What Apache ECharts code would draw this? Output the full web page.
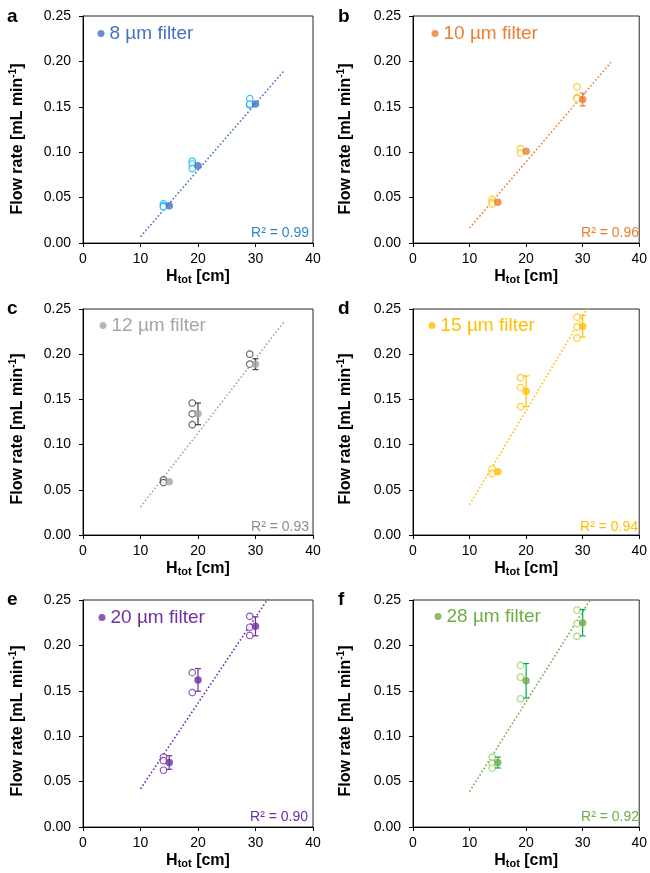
<!DOCTYPE html>
<html><head><meta charset="utf-8">
<script src="https://cdn.jsdelivr.net/npm/echarts@6/dist/echarts.min.js"></script>
<style>html,body{margin:0;padding:0;background:#fff}#c{width:650px;height:873px}</style>
</head><body><div id="c"></div>
<script>
// ---------- DATA ----------
const hTot = [15, 20, 30];          // H_tot of mean points [cm]
const hRep = [14, 19, 29];          // H_tot at which replicates are plotted [cm]
const xTickLabels = ['0', '10', '20', '30', '40'];
const yTickLabels = ['0.00', '0.05', '0.10', '0.15', '0.20', '0.25'];
const panelLetters = ['a', 'b', 'c', 'd', 'e', 'f'];
const filterNames = ['8 µm filter', '10 µm filter', '12 µm filter', '15 µm filter', '20 µm filter', '28 µm filter'];
const r2Labels = ['R² = 0.99', 'R² = 0.96', 'R² = 0.93', 'R² = 0.94', 'R² = 0.90', 'R² = 0.92'];

const meanA = [0.041, 0.085, 0.153];
const sdA = [0, 0, 0];
const repA = [[0.043, 0.041, 0.040], [0.090, 0.087, 0.082], [0.159, 0.152, 0.153]];
const trendA = [[10, 0.007], [35, 0.190]];

const meanB = [0.045, 0.101, 0.158];
const sdB = [0, 0, 0.007];
const repB = [[0.048, 0.045, 0.043], [0.104, 0.099], [0.172, 0.160, 0.159]];
const trendB = [[10, 0.0165], [35, 0.199]];

const meanC = [0.059, 0.134, 0.189];
const sdC = [0, 0.012, 0.006];
const repC = [[0.061, 0.058], [0.146, 0.134, 0.122], [0.200, 0.189]];
const trendC = [[10, 0.031], [35, 0.236]];

const meanD = [0.070, 0.159, 0.231];
const sdD = [0, 0.017, 0.012];
const repD = [[0.073, 0.068], [0.174, 0.163, 0.142], [0.241, 0.230, 0.218]];
const trendD = [[10, 0.0335], [35, 0.294]];

const meanE = [0.071, 0.162, 0.221];
const sdE = [0.0075, 0.0125, 0.0105];
const repE = [[0.077, 0.073, 0.0625], [0.170, 0.148], [0.232, 0.220, 0.211]];
const trendE = [[10, 0.042], [35, 0.278]];

const meanF = [0.071, 0.161, 0.225];
const sdF = [0.006, 0.019, 0.0145];
const repF = [[0.077, 0.070, 0.065], [0.178, 0.165, 0.141], [0.239, 0.224, 0.210]];
const trendF = [[10, 0.039], [35, 0.2865]];

const panelData = [
  {mean: meanA, sd: sdA, reps: repA, trend: trendA},
  {mean: meanB, sd: sdB, reps: repB, trend: trendB},
  {mean: meanC, sd: sdC, reps: repC, trend: trendC},
  {mean: meanD, sd: sdD, reps: repD, trend: trendD},
  {mean: meanE, sd: sdE, reps: repE, trend: trendE},
  {mean: meanF, sd: sdF, reps: repF, trend: trendF}
];

// ---------- STYLE / LAYOUT ----------
const FONT = '"Liberation Sans", Arial, sans-serif';
const colors = [
  {main: '#4472C4', open: '#00B0F0', err: '#4472C4', r2: '#2E86D0'},
  {main: '#ED7D31', open: '#FFC000', err: '#ED7D31', r2: '#ED7D31'},
  {main: '#A5A5A5', open: '#404040', err: '#404040', r2: '#8C8C8C'},
  {main: '#FFC000', open: '#FFC000', err: '#FFC000', r2: '#FFC000'},
  {main: '#7030A0', open: '#7030A0', err: '#7030A0', r2: '#7030A0'},
  {main: '#70AD47', open: '#92D050', err: '#00B050', r2: '#70AD47'}
];
const layout = [
  {left: 83,  top: 16,  height: 227, legend: [101, 34],  r2: [309, 233], letter: [7, 17],   ytitle: [17.5, 139]},
  {left: 413, top: 16,  height: 227, legend: [435, 34],  r2: [639, 233], letter: [338, 17], ytitle: [345.5, 139]},
  {left: 83,  top: 309, height: 226, legend: [103, 326], r2: [309, 527], letter: [7, 309],  ytitle: [17.5, 429]},
  {left: 413, top: 309, height: 226, legend: [432, 326], r2: [638, 527], letter: [338, 309], ytitle: [345.5, 429]},
  {left: 83,  top: 600, height: 227, legend: [102, 618], r2: [308, 817], letter: [7, 600],  ytitle: [17.5, 721]},
  {left: 413, top: 600, height: 227, legend: [438, 617], r2: [639, 817], letter: [338, 600], ytitle: [345.5, 721]}
];
const PW = 230;

const grids = [], xAxes = [], yAxes = [], series = [], legends = [], graphics = [];

panelData.forEach((p, i) => {
  const L = layout[i], C = colors[i];
  grids.push({left: L.left, top: L.top, width: PW, height: L.height, show: true,
    borderColor: '#262626', borderWidth: 1, backgroundColor: 'transparent'});
  xAxes.push({type: 'value', gridIndex: i, min: 0, max: 40, interval: 10,
    axisLine: {show: true, lineStyle: {color: '#000', width: 1}},
    axisTick: {show: true, inside: false, length: 4, lineStyle: {color: '#000'}},
    splitLine: {show: false},
    axisLabel: {color: '#000', fontSize: 14, fontFamily: FONT, margin: 9,
      formatter: (v, idx) => xTickLabels[idx]},
    name: '{b|H}{s|tot}{b| [cm]}', nameLocation: 'middle', nameGap: 23,
    nameTextStyle: {rich: {
      b: {fontSize: 16, fontWeight: 'bold', fontFamily: FONT, color: '#000', lineHeight: 18},
      s: {fontSize: 11, fontWeight: 'bold', fontFamily: FONT, color: '#000', verticalAlign: 'bottom', lineHeight: 12, padding: [8, 0, 0, 0]}
    }}
  });
  yAxes.push({type: 'value', gridIndex: i, min: 0, max: 0.25, interval: 0.05,
    axisLine: {show: true, lineStyle: {color: '#000', width: 1}},
    axisTick: {show: true, inside: false, length: 4, lineStyle: {color: '#000'}},
    splitLine: {show: false},
    axisLabel: {color: '#000', fontSize: 14, fontFamily: FONT, margin: 12,
      formatter: (v, idx) => yTickLabels[idx]}
  });
  // trendline
  series.push({type: 'line', xAxisIndex: i, yAxisIndex: i, data: p.trend, symbol: 'none',
    lineStyle: {color: C.main, width: 1.6, type: [1.6, 2.2]}, silent: true, z: 1, clip: true});
  // replicates (open circles)
  const repPts = [];
  p.reps.forEach((arr, j) => arr.forEach(v => repPts.push([hRep[j], v])));
  series.push({type: 'scatter', xAxisIndex: i, yAxisIndex: i, data: repPts, symbol: 'circle', symbolSize: 6.5,
    itemStyle: {color: '#fff', borderColor: C.open, borderWidth: 1.2}, silent: true, z: 2});
  // error bars
  const errPts = p.mean.map((m, j) => [hTot[j], m, p.sd[j]]).filter(d => d[2] > 0);
  series.push({type: 'custom', xAxisIndex: i, yAxisIndex: i, data: errPts, silent: true, z: 3,
    encode: {x: 0, y: 1},
    renderItem: (params, api) => {
      const x = api.value(0), y = api.value(1), e = api.value(2);
      const t = api.coord([x, y + e]), b = api.coord([x, y - e]);
      const w = 3;
      const st = {stroke: C.err, lineWidth: 1.2};
      return {type: 'group', children: [
        {type: 'line', shape: {x1: t[0], y1: t[1], x2: b[0], y2: b[1]}, style: st},
        {type: 'line', shape: {x1: t[0] - w, y1: t[1], x2: t[0] + w, y2: t[1]}, style: st},
        {type: 'line', shape: {x1: b[0] - w, y1: b[1], x2: b[0] + w, y2: b[1]}, style: st}
      ]};
    }});
  // means (filled)
  series.push({type: 'scatter', name: filterNames[i], xAxisIndex: i, yAxisIndex: i,
    data: p.mean.map((m, j) => [hTot[j], m]), symbol: 'circle', symbolSize: 7.5,
    itemStyle: {color: C.main}, silent: true, z: 4});
  legends.push({data: [filterNames[i]], left: L.legend[0] - 3.5, top: L.legend[1] - 10, padding: 0,
    icon: 'circle', itemWidth: 7, itemHeight: 7, selectedMode: false,
    textStyle: {color: C.main, fontSize: 19, fontFamily: FONT}});
  graphics.push({type: 'text', x: L.r2[0], y: L.r2[1], silent: true,
    style: {text: r2Labels[i], align: 'right', verticalAlign: 'middle', fill: C.r2, font: '14px ' + FONT}});
  graphics.push({type: 'text', x: L.letter[0], y: L.letter[1], silent: true,
    style: {text: panelLetters[i], align: 'left', verticalAlign: 'middle', fill: '#000', font: 'bold 19px ' + FONT}});
  graphics.push({type: 'text', x: L.ytitle[0], y: L.ytitle[1], rotation: Math.PI / 2, silent: true,
    style: {text: '{b|Flow rate [mL min}{s|-1}{b|]}', align: 'center', verticalAlign: 'middle',
      rich: {
        b: {fontSize: 16, fontWeight: 'bold', fontFamily: FONT, fill: '#000', lineHeight: 18},
        s: {fontSize: 10, fontWeight: 'bold', fontFamily: FONT, fill: '#000', verticalAlign: 'top', lineHeight: 10}
      }}});
});

const chart = echarts.init(document.getElementById('c'), null, {renderer: 'canvas'});
chart.setOption({
  animation: false,
  backgroundColor: '#fff',
  grid: grids, xAxis: xAxes, yAxis: yAxes, series: series, legend: legends, graphic: graphics
});
</script></body></html>
